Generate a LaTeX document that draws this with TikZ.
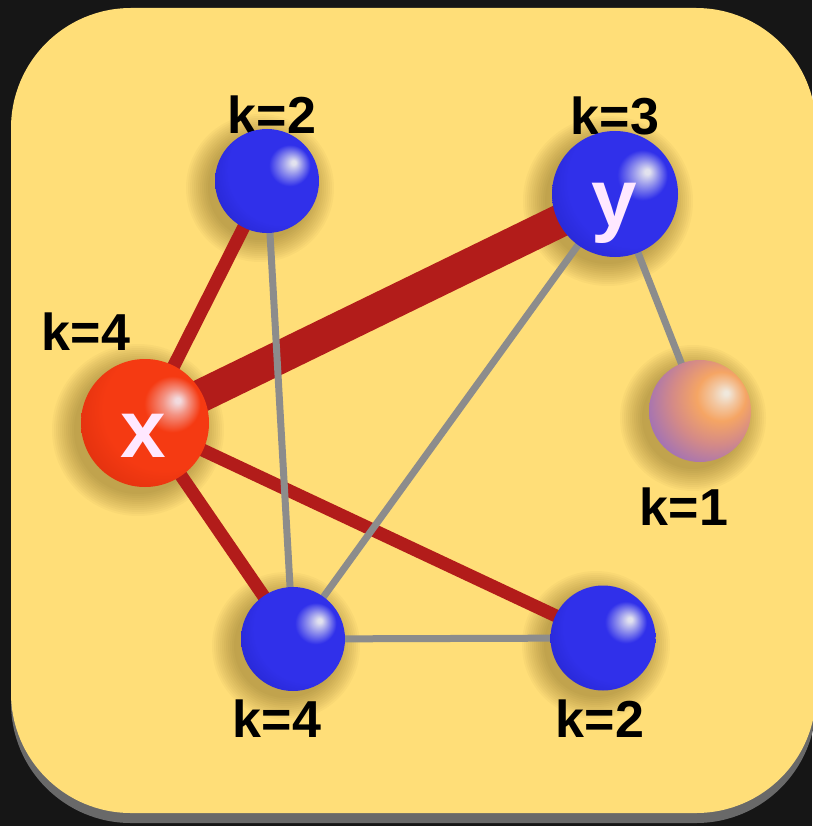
\documentclass[tikz,border=0pt]{standalone}
\usepackage{fontspec}
\setmainfont{Liberation Sans}
\definecolor{bgblack}{RGB}{22,22,22}
\definecolor{cardyellow}{RGB}{255,222,120}
\definecolor{cardshadow}{RGB}{105,105,105}
\definecolor{edgered}{RGB}{178,28,26}
\definecolor{edgegrey}{RGB}{140,140,140}
\definecolor{bhl}{RGB}{226,226,238}
\definecolor{bmain}{RGB}{48,48,234}
\definecolor{bdark}{RGB}{32,32,190}
\definecolor{rhl}{RGB}{242,218,222}
\definecolor{rmain}{RGB}{245,58,18}
\definecolor{rdark}{RGB}{210,42,12}
\definecolor{ohl}{RGB}{240,232,220}
\definecolor{omain}{RGB}{245,165,100}
\definecolor{omid}{RGB}{212,138,135}
\definecolor{odark}{RGB}{128,98,212}
\definecolor{lettercol}{RGB}{255,232,255}
\definecolor{haloc}{RGB}{90,66,10}
\pgfdeclareradialshading{blueball}{\pgfpoint{13bp}{9bp}}{color(0bp)=(bhl); color(1bp)=(bhl); color(5bp)=(bmain!45!bhl); color(10bp)=(bmain); color(26bp)=(bmain); color(42bp)=(bdark); color(60bp)=(bdark)}
\pgfdeclareradialshading{redball}{\pgfpoint{13bp}{9bp}}{color(0bp)=(rhl); color(1bp)=(rhl); color(5bp)=(rmain!45!rhl); color(11bp)=(rmain); color(24bp)=(rmain); color(42bp)=(rdark); color(60bp)=(rdark)}
\pgfdeclareradialshading{orangeball}{\pgfpoint{13bp}{9bp}}{color(0bp)=(ohl); color(1bp)=(ohl); color(6bp)=(omain!50!ohl); color(12bp)=(omain); color(22bp)=(omid); color(40bp)=(odark); color(60bp)=(odark)}
\pgfdeclarelayer{back}
\pgfdeclarelayer{edges}
\pgfsetlayers{back,edges,main}
\begin{document}
\begin{tikzpicture}[x=1pt,y=-1pt,
  sphere/.style={circle, inner sep=0pt, shade, draw=none},
  klabel/.style={font=\fontsize{52}{60}\selectfont\bfseries, anchor=base, inner sep=0pt, text=black},
  letter/.style={font=\fontsize{82}{90}\selectfont\bfseries, anchor=base, inner sep=0pt, text=lettercol},
  thickred/.style={draw=edgered, line width=33pt},
  redlink/.style={draw=edgered, line width=13pt},
  greylink/.style={draw=edgegrey, line width=7pt}]
\useasboundingbox (0,0) rectangle (812,826);
\begin{pgfonlayer}{back}
\fill[bgblack] (0,0) rectangle (812,826);
\fill[cardshadow, rounded corners=120pt] (11,17) rectangle (816,823);
\fill[cardyellow, rounded corners=120pt] (11,8) rectangle (816,813);
\end{pgfonlayer}
% labels
\node[klabel] (ltl) at (272,134) {k=2};
\node[klabel] (ly) at (615,135) {k=3};
\node[klabel] (lx) at (86,350) {k=4};
\node[klabel] (lo) at (684,525) {k=1};
\node[klabel] (lbl) at (277,737) {k=4};
\node[klabel] (lbr) at (600,737) {k=2};
% spheres
\node[sphere, shading=blueball, minimum size=104pt] (tl) at (267,181) {};
\node[sphere, shading=blueball, minimum size=126pt] (y) at (615,194) {};
\node[sphere, shading=redball, minimum size=128pt] (x) at (145,423) {};
\node[sphere, shading=orangeball, minimum size=102pt] (o) at (700,411) {};
\node[sphere, shading=blueball, minimum size=104pt] (bl) at (293,639) {};
\node[sphere, shading=blueball, minimum size=105pt] (br) at (603,638) {};
\node[letter] (xt) at (143,457) {x};
\node[letter] (yt) at (614,226) {y};
% halos
\begin{pgfonlayer}{back}
\foreach \c/\r in {tl/52,y/63,x/64,o/51,bl/52,br/52}{
  \foreach \i in {0,...,11}{
    \fill[haloc, opacity=0.035] ([shift={(-7,7)}]\c.center) circle ({\r+22-2*\i});
  }
}
\end{pgfonlayer}
% edges
\begin{pgfonlayer}{edges}
\draw[thickred] (x.center) -- (y.center);
\draw[redlink] (x.center) -- (tl.center);
\draw[redlink] (x.center) -- (bl.center);
\draw[redlink] (x.center) -- (br.center);
\draw[greylink] (tl.center) -- (bl.center);
\draw[greylink] (y.center) -- (bl.center);
\draw[greylink] (y.center) -- (o.center);
\draw[greylink] (bl.center) -- (br.center);
\end{pgfonlayer}
\end{tikzpicture}
\end{document}
